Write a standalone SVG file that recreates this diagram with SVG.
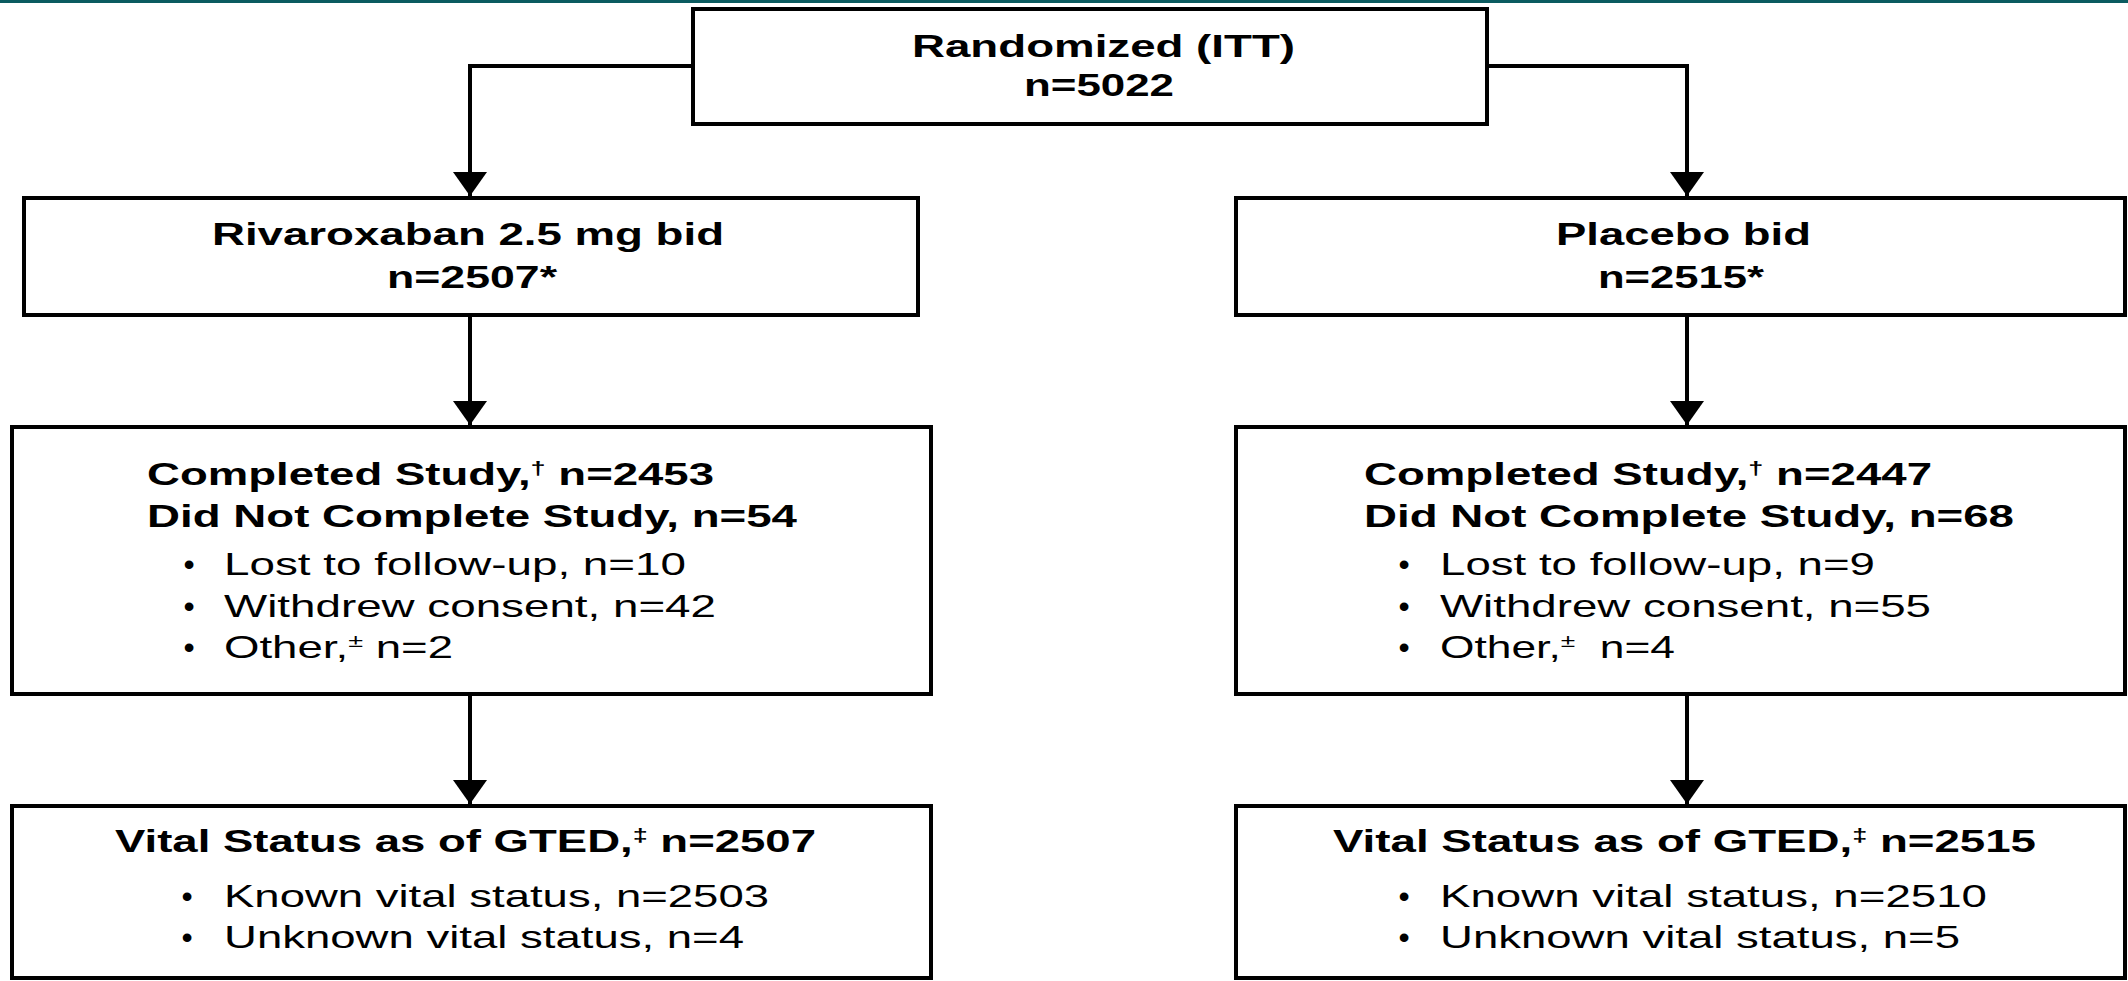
<svg xmlns="http://www.w3.org/2000/svg" width="2128" height="981" viewBox="0 0 2128 981">
<defs>
<style>
.box{fill:#ffffff;stroke:#000000;stroke-width:4}
.con{fill:none;stroke:#000000;stroke-width:4}
.b{font-family:"Liberation Sans",Arial,sans-serif;font-weight:700;font-size:32px;fill:#000}
.r{font-family:"Liberation Sans",Arial,sans-serif;font-weight:400;font-size:32px;fill:#000}
.sup{font-size:19px}
</style>
<marker id="ah" viewBox="0 0 24 34" refX="24" refY="17" markerWidth="24" markerHeight="34" markerUnits="userSpaceOnUse" orient="auto">
<path d="M0,0 L24,17 L0,34 Z" fill="#000"/>
</marker>
</defs>
<rect x="0" y="0" width="2128" height="981" fill="#ffffff"/>
<rect x="0" y="0" width="2128" height="3" fill="#0b5b60"/>

<g id="connectors">
<path class="con" d="M693,66 H470 V196" marker-end="url(#ah)"/>
<path class="con" d="M1487,66 H1687 V196" marker-end="url(#ah)"/>
<path class="con" d="M470,315 V425" marker-end="url(#ah)"/>
<path class="con" d="M1687,315 V425" marker-end="url(#ah)"/>
<path class="con" d="M470,694 V804" marker-end="url(#ah)"/>
<path class="con" d="M1687,694 V804" marker-end="url(#ah)"/>
</g>

<g id="randomized">
<rect class="box" x="693" y="9" width="794" height="115"/>
<text class="b" x="912" y="57" textLength="383" lengthAdjust="spacingAndGlyphs">Randomized (ITT)</text>
<text class="b" x="1024" y="96" textLength="150" lengthAdjust="spacingAndGlyphs">n=5022</text>
</g>

<g id="rivaroxaban">
<rect class="box" x="24" y="198" width="894" height="117"/>
<text class="b" x="212" y="245" textLength="512" lengthAdjust="spacingAndGlyphs">Rivaroxaban 2.5 mg bid</text>
<text class="b" x="387" y="288" textLength="170" lengthAdjust="spacingAndGlyphs">n=2507*</text>
</g>

<g id="placebo">
<rect class="box" x="1236" y="198" width="889" height="117"/>
<text class="b" x="1556" y="245" textLength="255" lengthAdjust="spacingAndGlyphs">Placebo bid</text>
<text class="b" x="1598" y="288" textLength="166" lengthAdjust="spacingAndGlyphs">n=2515*</text>
</g>

<g id="completed-rivaroxaban">
<rect class="box" x="12" y="427" width="919" height="267"/>
<text class="b" x="147" y="485" textLength="567" lengthAdjust="spacingAndGlyphs">Completed Study,<tspan class="sup" dy="-11">†</tspan><tspan dy="11"> n=2453</tspan></text>
<text class="b" x="147" y="527" textLength="650" lengthAdjust="spacingAndGlyphs">Did Not Complete Study, n=54</text>
<text class="r" x="189" y="575" text-anchor="middle">•</text>
<text class="r" x="224" y="575" textLength="462" lengthAdjust="spacingAndGlyphs">Lost to follow-up, n=10</text>
<text class="r" x="189" y="617" text-anchor="middle">•</text>
<text class="r" x="224" y="617" textLength="492" lengthAdjust="spacingAndGlyphs">Withdrew consent, n=42</text>
<text class="r" x="189" y="658" text-anchor="middle">•</text>
<text class="r" x="224" y="658" textLength="229" lengthAdjust="spacingAndGlyphs">Other,<tspan class="sup" dy="-11">±</tspan><tspan dy="11"> n=2</tspan></text>
</g>

<g id="completed-placebo">
<rect class="box" x="1236" y="427" width="889" height="267"/>
<text class="b" x="1364" y="485" textLength="568" lengthAdjust="spacingAndGlyphs">Completed Study,<tspan class="sup" dy="-11">†</tspan><tspan dy="11"> n=2447</tspan></text>
<text class="b" x="1364" y="527" textLength="650" lengthAdjust="spacingAndGlyphs">Did Not Complete Study, n=68</text>
<text class="r" x="1404" y="575" text-anchor="middle">•</text>
<text class="r" x="1440" y="575" textLength="435" lengthAdjust="spacingAndGlyphs">Lost to follow-up, n=9</text>
<text class="r" x="1404" y="617" text-anchor="middle">•</text>
<text class="r" x="1440" y="617" textLength="491" lengthAdjust="spacingAndGlyphs">Withdrew consent, n=55</text>
<text class="r" x="1404" y="658" text-anchor="middle">•</text>
<text class="r" x="1440" y="658" textLength="235" lengthAdjust="spacingAndGlyphs">Other,<tspan class="sup" dy="-11">±</tspan><tspan dy="11">&#160; n=4</tspan></text>
</g>

<g id="vital-rivaroxaban">
<rect class="box" x="12" y="806" width="919" height="172"/>
<text class="b" x="115" y="852" textLength="701" lengthAdjust="spacingAndGlyphs">Vital Status as of GTED,<tspan class="sup" dy="-11">‡</tspan><tspan dy="11"> n=2507</tspan></text>
<text class="r" x="187" y="907" text-anchor="middle">•</text>
<text class="r" x="224" y="907" textLength="545" lengthAdjust="spacingAndGlyphs">Known vital status, n=2503</text>
<text class="r" x="187" y="948" text-anchor="middle">•</text>
<text class="r" x="224" y="948" textLength="520" lengthAdjust="spacingAndGlyphs">Unknown vital status, n=4</text>
</g>

<g id="vital-placebo">
<rect class="box" x="1236" y="806" width="889" height="172"/>
<text class="b" x="1333" y="852" textLength="703" lengthAdjust="spacingAndGlyphs">Vital Status as of GTED,<tspan class="sup" dy="-11">‡</tspan><tspan dy="11"> n=2515</tspan></text>
<text class="r" x="1404" y="907" text-anchor="middle">•</text>
<text class="r" x="1440" y="907" textLength="547" lengthAdjust="spacingAndGlyphs">Known vital status, n=2510</text>
<text class="r" x="1404" y="948" text-anchor="middle">•</text>
<text class="r" x="1440" y="948" textLength="520" lengthAdjust="spacingAndGlyphs">Unknown vital status, n=5</text>
</g>
</svg>
